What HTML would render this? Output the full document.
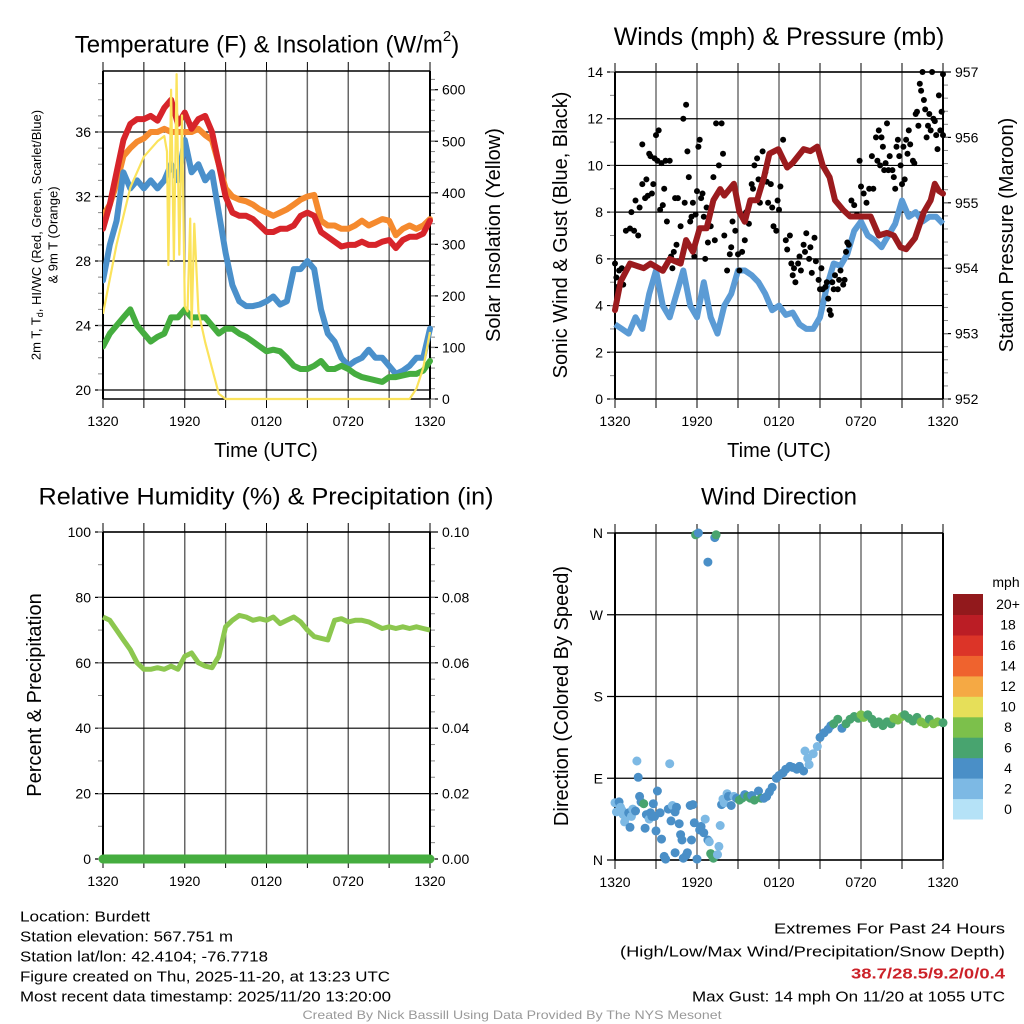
<!DOCTYPE html>
<html><head><meta charset="utf-8"><style>
html,body{margin:0;padding:0;background:#fff;}
svg{display:block;font-family:"Liberation Sans",sans-serif;}
</style></head><body>
<svg id="c" width="1024" height="1024" viewBox="0 0 1024 1024"></svg>
<script>
// ---------- DATA ----------
const xTickLabels = ["1320","1920","0120","0720","1320"];
const hours = [0,0.5,1,1.5,2,2.5,3,3.5,4,4.5,5,5.5,6,6.5,7,7.5,8,8.5,9,9.5,10,10.5,11,11.5,12,12.5,13,13.5,14,14.5,15,15.5,16,16.5,17,17.5,18,18.5,19,19.5,20,20.5,21,21.5,22,22.5,23,23.5,24];
const tempRed = [30,31.5,33.5,35.5,36.5,36.8,36.8,37,36.7,37.5,38,36.5,37.2,36.2,36.8,37,36,34,32,31,30.8,30.8,30.6,30.2,29.8,29.8,30,30,30.2,30.8,31,30.8,29.8,29.5,29.2,28.9,29,29,29.2,29,29,29.2,29.3,28.8,29.3,29.5,29.5,29.7,30.5];
const tempOrange = [30.8,31.5,32.8,34.5,35,35.4,35.6,36,36,36.2,36,36,36,36,36.2,35.8,35.5,34,32.5,32,31.8,31.7,31.5,31.2,31,30.8,31,31.2,31.5,31.8,32,32.1,30.5,30.2,30.2,30,30,30.2,30.5,30.2,30.4,30.6,30.5,29.6,30,30.2,30,30.2,30.6];
const tempBlue = [26.8,29,30.5,33.5,32.5,33,32.5,33,32.5,33,34,33,35.5,33.5,34,33,33.5,31,28.5,26.5,25.5,25.2,25.2,25.3,25.5,25.8,25.3,25.5,27.5,27.5,28,27.5,25,23.5,23,22,21.5,21.8,22,22.5,22,22,21.5,21,21.2,21.5,22,22,23.8];
const tempGreen = [22.7,23.5,24,24.5,25,24,23.5,23,23.3,23.5,24.5,24.5,25,24.5,24.5,24.5,24,23.5,23.8,23.8,23.5,23.3,23,22.7,22.4,22.5,22.4,22,21.5,21.3,21.3,21.5,21.8,21.3,21.3,21.5,21.3,21,20.8,20.7,20.6,20.5,20.8,20.8,20.9,21,21,21.2,21.8];
const solarHours = [0,1,2,3,4,4.5,4.7,4.8,5.0,5.2,5.4,5.6,5.8,6.0,6.2,6.4,6.5,6.7,7.0,7.5,8,8.5,9,12,18,22.5,23,23.5,24];
const solarVals = [165,300,410,470,500,510,480,260,600,270,630,280,550,180,170,350,140,340,170,110,60,10,0,0,0,0,20,60,130];
const windBlue = [3.2,3,2.8,3.5,3,4.5,5.5,4,3.5,4.5,5.5,4,3.5,5,3.5,2.8,4,4.5,5.5,5.5,5.3,5,4.5,3.8,4,3.6,3.7,3.2,3,3,3.5,4.8,5.8,5.7,6.2,7.2,7.6,7,6.8,6.5,7,7.5,8.5,7.8,8,7.6,7.8,7.8,7.5];
const presHours = [0,0.4,1.1,2.1,2.6,3.5,4.0,4.8,5.2,5.7,6.2,6.7,7.2,7.7,8,8.7,9.1,9.5,9.9,10.4,10.9,11.3,11.95,12.6,13,13.8,14.3,14.8,15.2,15.7,16.1,16.7,17.2,17.9,18.7,19.3,19.9,20.4,20.9,21.3,21.95,22.6,23.1,23.4,23.7,24];
const presVals = [953.36,953.79,954.07,954.0,954.07,953.96,954.14,954.07,954.43,954.25,954.61,954.61,955.04,955.21,955.11,955.29,954.86,954.71,955.04,955.04,955.39,955.75,955.82,955.54,955.61,955.82,955.79,955.86,955.57,955.39,955.04,954.89,954.79,954.79,954.79,954.5,954.54,954.5,954.32,954.29,954.46,954.86,955.04,955.29,955.18,955.14];
const gustHours = [0,0.1,0.2,0.3,0.4,0.5,0.6,0.8,1.1,1.2,1.4,1.5,1.7,1.8,2.0,2.0,2.2,2.3,2.4,2.5,2.6,2.7,2.8,2.9,3.0,3.1,3.2,3.3,3.4,3.5,3.6,3.7,3.8,4.0,4.1,4.2,4.3,4.4,4.5,4.6,4.8,5.0,5.1,5.2,5.3,5.4,5.5,5.6,5.7,5.8,5.9,6.0,6.1,6.2,6.3,6.4,6.5,6.6,6.7,6.8,7.0,7.2,7.3,7.4,7.6,7.8,7.9,8.0,8.2,8.4,8.5,8.6,8.8,9.0,9.1,9.3,9.5,9.6,9.8,10.0,10.1,10.2,10.4,10.5,10.6,10.8,11.0,11.1,11.2,11.4,11.5,11.6,11.8,11.9,12.0,12.1,12.3,12.5,12.6,12.8,12.9,13.0,13.1,13.2,13.4,13.5,13.6,13.8,13.9,14.0,14.2,14.3,14.4,14.6,14.7,14.9,15.0,15.1,15.2,15.4,15.5,15.6,15.7,15.8,15.9,16.0,16.1,16.3,16.4,16.5,16.7,16.8,16.9,17.0,17.1,17.3,17.5,17.7,17.9,18.0,18.2,18.4,18.6,18.8,18.9,19.1,19.2,19.3,19.4,19.5,19.6,19.7,19.8,19.9,20.0,20.1,20.3,20.4,20.5,20.6,20.7,20.8,20.9,21.0,21.1,21.2,21.3,21.4,21.5,21.6,21.8,21.9,22.0,22.1,22.2,22.3,22.4,22.5,22.6,22.7,22.8,22.9,23.0,23.1,23.2,23.3,23.4,23.5,23.6,23.7,23.8,23.9,24.0,24.0];
const gustVals = [5.8,5.2,4.8,5.5,5,5.6,4.9,7.2,7.3,8,7.2,8.5,7,8.2,10.9,9.2,8.6,9.4,8.7,10.5,10.4,8.8,9.2,10.3,11.3,10.2,11.5,8.1,10.1,8.3,9,10.2,7.6,10.2,6.1,5.6,6.3,8.6,6.6,8.6,7.4,12,8.4,12.6,10.6,9.5,7.6,7.8,8.4,6.1,7.9,8.9,10.8,11.1,8.6,8.8,7.8,6,8.2,6.7,7.4,9.5,6.8,11.8,10,11.8,10.5,7,5.5,6.2,6.5,7.6,7.2,6.2,5.5,6.3,6.8,8,7.5,9.2,9.0,10,10.3,9.4,8.4,10.6,9.7,9.3,8.4,9.2,8.2,7.4,7.2,8.5,8.1,9.1,11.1,6.8,6.4,7,5.8,5.3,5.6,5,5.8,6.1,5.5,6.6,6.3,7.1,6,6.5,5.4,6.9,5.9,5.1,4.7,5.6,4.7,4.8,5,4.3,3.8,3.6,5,4.7,5.3,4.7,5.1,5.5,4.9,5.1,6.3,6.7,6.6,8.5,8.3,7.9,10.2,9.1,8.8,8.4,9,10.4,9,11.2,10.2,11.5,10,11.2,10.8,9.8,10.1,11.8,9.8,10.4,9.8,9.5,9,10.8,11.1,10.4,10,9.2,10.8,9.4,11.1,10.5,11.5,10.9,10.2,10.1,12.2,12.3,11.7,13.5,13.2,14,12.8,12.4,11.2,11.7,12.2,11.5,14,12,11.9,11.3,10.7,13,11.5,12.3,11.3,13.9];
const rhVals = [74,73,70,67,64,60,58,58,58.5,58,59,58,62,63,60,59,58.5,62,71,73,74.5,74,73,73.5,73,74,72,73,74,72.5,70,68,67.5,67,73,73.5,72.5,73,73,72.5,71.5,70.5,71,70.5,71,70.5,71,70.5,70];
const precipVals = hours.map(()=>0);
const dirHours = [0,0.1,0.3,0.4,0.5,0.6,0.7,0.8,0.9,1.0,1.1,1.2,1.3,1.5,1.6,1.7,1.8,1.9,2.1,2.2,2.3,2.4,2.5,2.6,2.7,2.8,2.9,3.0,3.1,3.3,3.4,3.6,3.7,3.9,4.0,4.1,4.2,4.4,4.4,4.5,4.7,4.8,4.9,5.0,5.2,5.3,5.5,5.6,5.7,5.8,6.0,5.9,6.0,6.1,6.2,6.3,6.5,6.6,6.8,6.8,6.9,7.0,7.1,7.2,7.3,7.4,7.5,7.6,7.7,7.8,7.9,8.0,8.2,8.3,8.5,8.7,8.9,9.1,9.3,9.5,9.7,9.9,10.0,10.2,10.5,10.7,10.9,11.1,11.3,11.5,11.8,12.0,12.3,12.5,12.8,13.0,13.3,13.5,13.8,13.9,14.1,14.2,14.5,14.8,15.0,15.3,15.6,15.8,16.0,16.3,16.6,16.9,17.2,17.5,17.8,18.0,18.2,18.5,18.8,19.0,19.3,19.6,19.9,20.2,20.4,20.7,21.0,21.2,21.5,21.8,22.1,22.4,22.7,23.0,23.3,23.6,24];
const dirDeg = [63,53,64,58,55,50,42,47,48,52,36,48,56,54,109,91,70,64,62,35,50,50,45,52,48,62,48,32,76,52,23,4,1,56,106,43,60,8,53,58,40,28,22,2,5,8,60,22,61,41,1,358,359,360,33,37,30,45,22,328,20,7,5,2,355,358,6,15,38,61,67,63,73,70,60,70,68,66,68,72,70,68,71,66,76,68,68,70,75,80,90,93,96,100,103,102,100,103,98,120,112,105,117,125,135,140,144,148,150,155,145,150,155,158,156,160,157,160,155,150,152,148,152,150,156,154,158,160,156,153,157,152,150,155,150,152,151];
const dirSpeed = [2,2.5,4,2,3,2,2,2,3,4,4,3,2,4,2,4,4,5,6,4,4,4,3,4,4,4,5,4,4,4,4,4,4,4,2,4,3,4,4,4,4,4,4,4,4,4,4,4,4,4,4,6,6,4,4,4,4,3,4,4,3,6,6,6,4,6,3,3,2,4,3,3,3,4,4,3,4,6,6,4,6,6,4,6,4,6,4,4,4,4,4,4,4,4,4,4,4,4,4,2,3,2,2,3,4,4,4,4,6,6,4,6,6,6,7,8,8,7,6,6,6,6,6,6,8,8,8,7,6,6,6,8,8,7,8,8,7];
const cbarLabels = ["0","2","4","6","8","10","12","14","16","18","20+"];
const cbarColors = ["#b5e2f7","#7db9e4","#4a8fc7","#48a46f","#7cc04b","#e6df59","#f5a944","#ef632e","#dc3428","#bb1d25","#92191c"];

// ---------- HELPERS ----------
const NS="http://www.w3.org/2000/svg";
const svg=document.getElementById('c');
function mk(tag,attrs,parent){const e=document.createElementNS(NS,tag);for(const k in attrs)e.setAttribute(k,attrs[k]);(parent||svg).appendChild(e);return e;}
function txt(s,x,y,size,opts,parent){opts=opts||{};const e=mk('text',Object.assign({x:x,y:y,'font-size':size,fill:opts.fill||'#000','text-anchor':opts.anchor||'middle','dominant-baseline':'central'},opts.extra||{}),parent);e.textContent=s;return e;}
function line(x1,y1,x2,y2,c,w,parent){return mk('line',{x1:x1,y1:y1,x2:x2,y2:y2,stroke:c||'#000','stroke-width':w||1},parent);}
function pathFrom(xs,ys,fx,fy){let d='';for(let i=0;i<xs.length;i++){d+=(i?'L':'M')+fx(xs[i]).toFixed(1)+' '+fy(ys[i]).toFixed(1);}return d;}

function frame(g,L,R,T,B,yTicksL,fyL,labL,yTicksR,fyR,labR,minorL,minorR){
  const fx=h=>L+(R-L)*h/24;
  for(let k=0;k<=8;k++){const x=fx(k*3);line(x,T-9,x,B+9,'#000',1,g);line(x,T,x,B,'#666',1.4,g);}
  yTicksL.forEach((v,i)=>{const y=fyL(v);line(L-8,y,R,y,'#000',1.2,g);if(labL)txt(labL[i],L-12,y,14,{anchor:'end'},g);});
  if(minorL)minorL.forEach(v=>line(L-5,fyL(v),L,fyL(v),'#888',1,g));
  if(yTicksR){yTicksR.forEach((v,i)=>{const y=fyR(v);line(R,y,R+8,y,'#000',1.2,g);txt(labR[i],R+12,y,14,{anchor:'start'},g);});}
  if(minorR)minorR.forEach(v=>line(R,fyR(v),R+5,fyR(v),'#888',1,g));
  line(L,T,R,T,'#000',1.5,g);line(L,T,L,B,'#000',2,g);line(R,T,R,B,'#000',2,g);line(L,B,R,B,'#000',1.5,g);
  xTickLabels.forEach((s,i)=>txt(s,fx(i*6),B+22,14,{},g));
  return fx;
}

// ---------- PANEL 1 ----------
{
const g=mk('g',{});

const L=103,R=430,T=71,B=399;
const fyT=v=>390-(v-20)*16.125;
const fyS=v=>399-v*0.5155;
const minL=[];for(let v=20;v<=39;v++)minL.push(v);
const minR=[];for(let v=0;v<=620;v+=20)minR.push(v);
const fx=frame(g,L,R,T,B,[20,24,28,32,36],fyT,["20","24","28","32","36"],[0,100,200,300,400,500,600],fyS,["0","100","200","300","400","500","600"],minL,minR);
const cl=mk('g',{'clip-path':'url(#cp1)'},g);
const cp=mk('clipPath',{id:'cp1'});mk('rect',{x:L,y:T-2,width:R-L+3,height:B-T+4},cp);
const series=[[tempOrange,'#f58a2e','orange-9m-temp-line'],[tempRed,'#d7242a','red-2m-temp-line'],[tempBlue,'#4a90cb','blue-wind-chill-line'],[tempGreen,'#45ad3f','green-dewpoint-line']];
series.forEach(s=>{const p=mk('path',{d:pathFrom(hours,s[0],fx,fyT),fill:'none',stroke:s[1],'stroke-width':6,'stroke-linejoin':'round','stroke-linecap':'round'},cl);
});
const sp=mk('path',{d:pathFrom(solarHours,solarVals,fx,fyS),fill:'none',stroke:'#fbe35c','stroke-width':2.2,'stroke-linejoin':'round'},cl);

const t=txt('',267,45,24,{},g);t.innerHTML='Temperature (F) &amp; Insolation (W/m<tspan dy="-9" font-size="15">2</tspan><tspan dy="9">)</tspan>';

const xt=txt('Time (UTC)',266,451,20,{},g);
const yl=mk('text',{transform:'translate(36,235) rotate(-90)','font-size':13,'text-anchor':'middle','dominant-baseline':'central'},g);
yl.innerHTML='2m T, T<tspan dy="4" font-size="9">d</tspan><tspan dy="-4">, HI/WC (Red, Green, Scarlet/Blue)</tspan>';

const yl2=mk('text',{transform:'translate(53,235) rotate(-90)','font-size':13,'text-anchor':'middle','dominant-baseline':'central'},g);yl2.textContent='& 9m T (Orange)';
const yr=mk('text',{transform:'translate(494,235) rotate(-90)','font-size':20,'text-anchor':'middle','dominant-baseline':'central'},g);yr.textContent='Solar Insolation (Yellow)';

}

// ---------- PANEL 2 ----------
{
const g=mk('g',{});

const L=615,R=943,T=72,B=399;
const fyW=v=>399-v*23.357;
const fyP=v=>399-(v-952)*65.4;
const minR=[];for(let v=952;v<=957;v+=0.2)minR.push(v);
const minL=[];for(let v=0;v<=14;v+=1)minL.push(v);
const fx=frame(g,L,R,T,B,[0,2,4,6,8,10,12,14],fyW,["0","2","4","6","8","10","12","14"],[952,953,954,955,956,957],fyP,["952","953","954","955","956","957"],minL,minR);
const wl=mk('path',{d:pathFrom(hours,windBlue,fx,fyW),fill:'none',stroke:'#5b9bd5','stroke-width':6,'stroke-linejoin':'round'},g);

gustHours.forEach((h,i)=>{const c=mk('circle',{cx:fx(h).toFixed(1),cy:fyW(gustVals[i]).toFixed(1),r:3,fill:'#000'},g);
});
const pl=mk('path',{d:pathFrom(presHours,presVals,fx,fyP),fill:'none',stroke:'#9b1b1e','stroke-width':6,'stroke-linejoin':'round','stroke-linecap':'round'},g);

const t=txt('Winds (mph) & Pressure (mb)',779,37,25,{},g);
const xt=txt('Time (UTC)',779,451,20,{},g);
const yl=mk('text',{transform:'translate(561,235) rotate(-90)','font-size':20,'text-anchor':'middle','dominant-baseline':'central'},g);yl.textContent='Sonic Wind & Gust (Blue, Black)';

const yr=mk('text',{transform:'translate(1007,235) rotate(-90)','font-size':20,'text-anchor':'middle','dominant-baseline':'central'},g);yr.textContent='Station Pressure (Maroon)';

}

// ---------- PANEL 3 ----------
{
const g=mk('g',{});

const L=103,R=430,T=532,B=859;
const fyR=v=>859-v*3.27;
const fyPr=v=>859-v*3270;
const minL=[];for(let v=0;v<=100;v+=10)minL.push(v);
const minR=[];for(let v=0;v<=0.1;v+=0.005)minR.push(v);
const fx=frame(g,L,R,T,B,[0,20,40,60,80,100],fyR,["0","20","40","60","80","100"],[0,0.02,0.04,0.06,0.08,0.1],fyPr,["0.00","0.02","0.04","0.06","0.08","0.10"],minL,minR);
const rl=mk('path',{d:pathFrom(hours,rhVals,fx,fyR),fill:'none',stroke:'#8cc74f','stroke-width':5,'stroke-linejoin':'round'},g);

const pl=mk('path',{d:pathFrom(hours,precipVals,fx,fyPr),fill:'none',stroke:'#45ad3f','stroke-width':9,'stroke-linecap':'round'},g);

const t=txt('Relative Humidity (%) & Precipitation (in)',266,497,24,{extra:{textLength:455,lengthAdjust:'spacingAndGlyphs'}},g);
const yl=mk('text',{transform:'translate(35,695) rotate(-90)','font-size':20,'text-anchor':'middle','dominant-baseline':'central'},g);yl.textContent='Percent & Precipitation';

}

// ---------- PANEL 4 ----------
{
const g=mk('g',{});

const L=615,R=943,T=533,B=860;
const fyD=v=>860-v*0.9083;
const fx=frame(g,L,R,T,B,[0,90,180,270,360],fyD,["N","E","S","W","N"],null,null,null,null,null);
dirHours.forEach((h,i)=>{const bin=Math.min(10,Math.max(0,Math.floor(dirSpeed[i]/2)));
const c=mk('circle',{cx:fx(h).toFixed(1),cy:fyD(dirDeg[i]).toFixed(1),r:4.5,fill:cbarColors[bin]},g);
});
const t=txt('Wind Direction',779,497,24,{},g);
const yl=mk('text',{transform:'translate(562,696) rotate(-90)','font-size':20,'text-anchor':'middle','dominant-baseline':'central'},g);yl.textContent='Direction (Colored By Speed)';

const cb=mk('g',{},g);
const top=594,bh=(819-594)/11;
cbarColors.forEach((c,i)=>{const y=top+(10-i)*bh;mk('rect',{x:953,y:y.toFixed(1),width:30,height:(bh+0.5).toFixed(1),fill:c},cb);
txt(cbarLabels[i],1008,y+bh/2,14,{},cb);});
txt('mph',1006,582,14,{},cb);
}

// ---------- FOOTER ----------
{
const g=mk('g',{});
const left=[["Location: Burdett",130],["Station elevation: 567.751 m",213],["Station lat/lon: 42.4104; -76.7718",248],["Figure created on Thu, 2025-11-20, at 13:23 UTC",370],["Most recent data timestamp: 2025/11/20 13:20:00",371]];
left.forEach((l,i)=>txt(l[0],20,917+i*20,15,{anchor:'start',extra:{textLength:l[1],lengthAdjust:'spacingAndGlyphs'}},g));
const right=[["Extremes For Past 24 Hours",929,231,'#000','normal'],["(High/Low/Max Wind/Precipitation/Snow Depth)",952,385,'#000','normal'],["38.7/28.5/9.2/0/0.4",974,154,'#cc2229','bold'],["Max Gust: 14 mph On 11/20 at 1055 UTC",997,313,'#000','normal']];
right.forEach(r=>txt(r[0],1005,r[1],15,{anchor:'end',fill:r[3],extra:{textLength:r[2],lengthAdjust:'spacingAndGlyphs','font-weight':r[4]}},g));
txt('Created By Nick Bassill Using Data Provided By The NYS Mesonet',512,1015,12,{fill:'#999',extra:{textLength:419,lengthAdjust:'spacingAndGlyphs'}},g);
}
</script>
</body></html>
